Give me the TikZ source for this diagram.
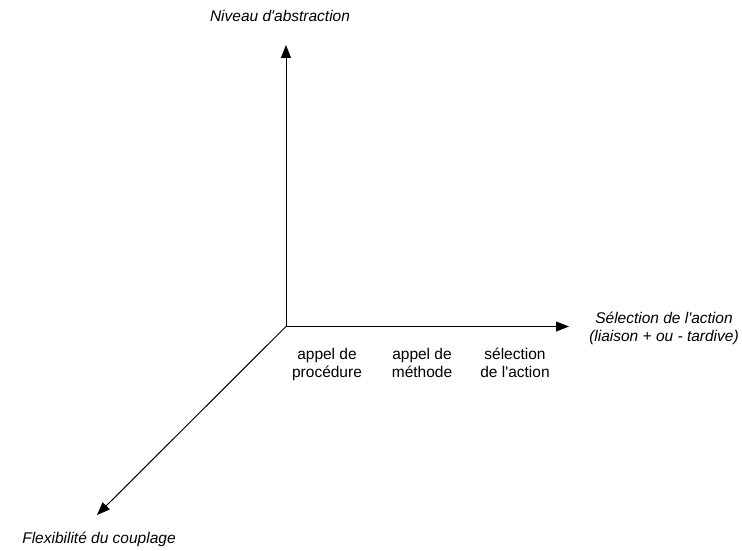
\documentclass[tikz,border=0pt]{standalone}
\usepackage{fontspec}
\newfontfamily\labelfont{Liberation Sans}
\setmainfont{Liberation Sans}
\usetikzlibrary{arrows.meta}
\begin{document}
\begin{tikzpicture}[x=1pt,y=-1pt,
  axis/.style={line width=1pt,-{Triangle[length=13pt,width=10pt]}},
  axislabel/.style={font=\labelfont\fontsize{15.5}{17.5}\selectfont\itshape,align=center,inner sep=0pt,anchor=base},
  tick/.style={font=\labelfont\fontsize{15.5}{18}\selectfont,align=center,inner sep=0pt,anchor=base}]
  \useasboundingbox (0,0) rectangle (742,551);
  % axes
  \coordinate (O) at (286,326.5);
  \coordinate (ytip) at (286,45);
  \coordinate (xtip) at (569,326.5);
  \coordinate (ztip) at (97,515);
  \draw[axis] (O) -- (ytip);
  \draw[axis] (O) -- (xtip);
  \draw[axis] (O) -- (ztip);
  % axis titles
  \node[axislabel] (ylab) at (280,22) {Niveau d'abstraction};
  \node[axislabel] (xlab) at (664,341) {Sélection de l'action\\(liaison + ou - tardive)};
  \node[axislabel] (zlab) at (99,543) {Flexibilité du couplage};
  % graduations along the horizontal axis
  \node[tick] (t1) at (327,377) {appel de\\procédure};
  \node[tick] (t2) at (422,377) {appel de\\méthode};
  \node[tick] (t3) at (515,377) {sélection\\de l'action};
\end{tikzpicture}
\end{document}
